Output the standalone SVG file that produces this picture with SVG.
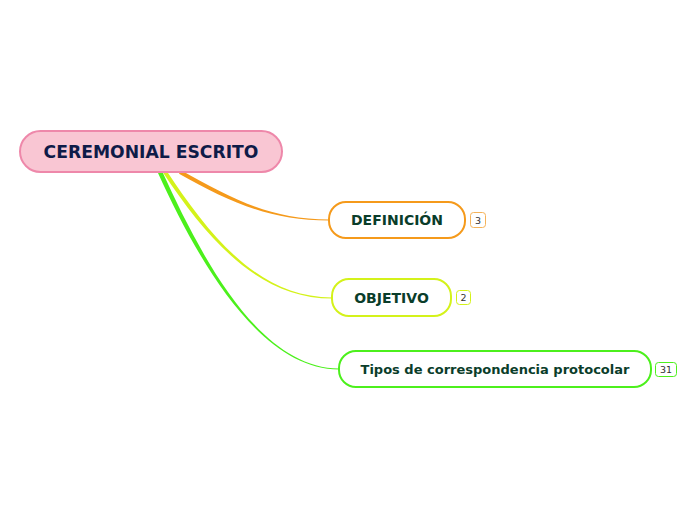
<svg xmlns="http://www.w3.org/2000/svg" width="696" height="520" viewBox="0 0 696 520">
<style>
.lbl{font-family:"DejaVu Sans",Verdana,sans-serif;font-weight:bold;text-anchor:middle}
.node{fill:#ffffff;stroke-width:2}
.badge{fill:#ffffff;stroke-width:1}
.btxt{font-family:"DejaVu Sans",Verdana,sans-serif;font-size:9.5px;fill:#333333;text-anchor:middle}
</style>
<rect width="696" height="520" fill="#ffffff"/>
<g id="connectors">
<path d="M179,173.7 C229,201.7 270,220.5 329,220.5 L329,219.5 C270,219.5 231,198.3 181,170.3 Z" fill="#f59a1b"/>
<path d="M163.3,173.1 C208.3,241.1 260,298.5 332,298.5 L332,297.5 C260,297.5 211.7,238.9 166.7,170.9 Z" fill="#d4f21a"/>
<path d="M158,172.9 C198,260.9 260,369.5 339,369.5 L339,368.5 C260,368.5 202,259.1 162,171.1 Z" fill="#4cf01c"/>
</g>
<g id="root">
<rect x="20" y="131" width="262" height="41" rx="20.5" fill="#f9c6d3" stroke="#ee88aa" stroke-width="2"/>
<text class="lbl" x="151" y="158" font-size="17.2" fill="#0e1b48">CEREMONIAL ESCRITO</text>
</g>
<g id="definicion">
<rect class="node" x="329" y="202" width="136" height="36" rx="17" stroke="#f59a1b"/>
<text class="lbl" x="397" y="225" font-size="14" fill="#0a3d2a">DEFINICIÓN</text>
<rect class="badge" x="470.5" y="212.5" width="15" height="15" rx="3" stroke="#f5b35a"/>
<text class="btxt" x="478" y="223.5">3</text>
</g>
<g id="objetivo">
<rect class="node" x="332" y="279" width="119" height="37" rx="17" stroke="#d4f21a"/>
<text class="lbl" x="391.5" y="302.5" font-size="14" fill="#0a3d2a">OBJETIVO</text>
<rect class="badge" x="456.5" y="290.5" width="14" height="14" rx="3" stroke="#d4f21a"/>
<text class="btxt" x="463.5" y="301">2</text>
</g>
<g id="tipos">
<rect class="node" x="339" y="351" width="312" height="36" rx="17" stroke="#4cf01c"/>
<text class="lbl" x="495" y="374" font-size="13" fill="#0a3d2a">Tipos de correspondencia protocolar</text>
<rect class="badge" x="655.5" y="362.5" width="21" height="14" rx="3" stroke="#4cf01c"/>
<text class="btxt" x="666" y="373">31</text>
</g>
</svg>
